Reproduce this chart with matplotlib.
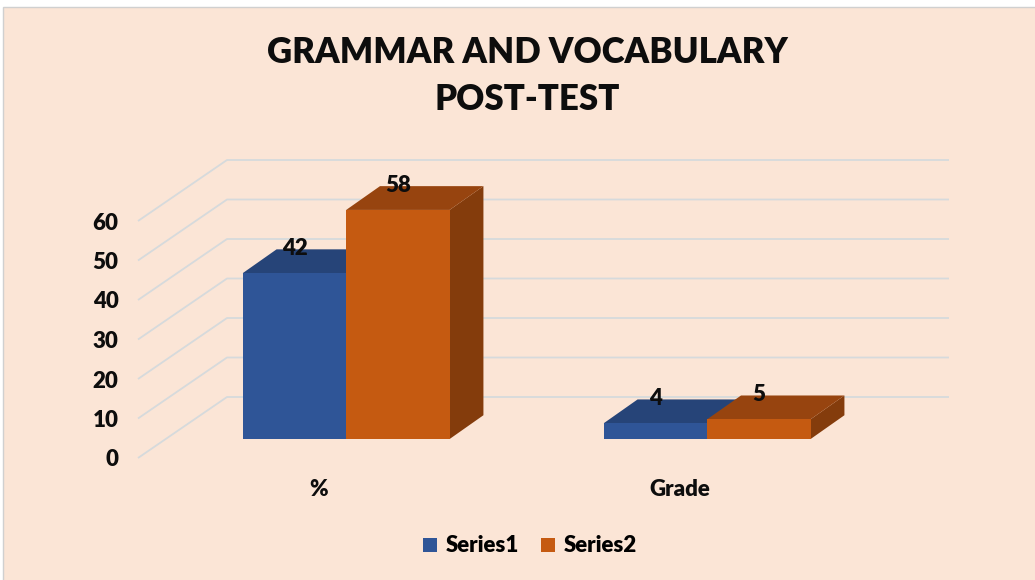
import matplotlib
matplotlib.use('Agg')
import matplotlib.pyplot as plt
from matplotlib.patches import Polygon, Rectangle, Patch

# ---- data ----
categories = ['%', 'Grade']
series1 = [42, 4]
series2 = [58, 5]
series_names = ['Series1', 'Series2']
y_ticks = [0, 10, 20, 30, 40, 50, 60]
title = 'GRAMMAR AND VOCABULARY\nPOST-TEST'

# ---- style ----
plt.rcParams['font.family'] = ['Lato', 'DejaVu Sans']
bg = '#FBE5D6'
grid_c = '#D6DADC'
front_c = ['#2F5597', '#C55A11']
top_c = ['#264478', '#97440F']
side_c = ['#1F3864', '#843C0C']
txt_c = '#0D0D0D'
fw = 'heavy'

W, H = 1035, 580
fig = plt.figure(figsize=(W / 100, H / 100), dpi=100)
fig.patch.set_facecolor('white')
fig.patches.append(Rectangle((3 / W, -0.01), 1.0, (H - 7) / H + 0.01,
                             transform=fig.transFigure, facecolor=bg,
                             edgecolor='#D0D0D0', lw=1.0, zorder=-10))

# front plane axes
px_cat = 361.0
px_val = 3.95
left_px, right_px, zero_px, top_px = 138, 949, 458, 120
ax = fig.add_axes([left_px / W, (H - zero_px) / H,
                   (right_px - left_px) / W, (zero_px - top_px) / H])
ax.set_facecolor('none')
ax.set_xlim(0, (right_px - left_px) / px_cat)
ax.set_ylim(0, (zero_px - top_px) / px_val)
for s in ax.spines.values():
    s.set_visible(False)

depth_x = 89 / px_cat
depth_y = 61 / px_val
n_cat = len(categories)

# gridlines (side wall + back wall)
for v in y_ticks:
    ax.plot([0, depth_x, n_cat + depth_x], [v, v + depth_y, v + depth_y],
            color=grid_c, lw=1.3, zorder=1, solid_capstyle='butt',
            clip_on=False)

# bars
d0 = 0.311
bdx = 0.38 * depth_x
bdy = 0.39 * depth_y
bw = 0.2865
gap = (1 - 2 * bw) / 2
for i in range(n_cat):
    for j, vals in enumerate([series1, series2]):
        v = vals[i]
        x0 = i + gap + j * bw + d0 * depth_x
        y0 = d0 * depth_y
        front = [(x0, y0), (x0 + bw, y0), (x0 + bw, y0 + v), (x0, y0 + v)]
        top = [(x0, y0 + v), (x0 + bw, y0 + v),
               (x0 + bw + bdx, y0 + v + bdy), (x0 + bdx, y0 + v + bdy)]
        side = [(x0 + bw, y0), (x0 + bw + bdx, y0 + bdy),
                (x0 + bw + bdx, y0 + v + bdy), (x0 + bw, y0 + v)]
        z = 2 + i * 3 + j
        ax.add_patch(Polygon(side, closed=True, facecolor=side_c[j],
                             edgecolor='none', zorder=z, clip_on=False))
        ax.add_patch(Polygon(top, closed=True, facecolor=top_c[j],
                             edgecolor='none', zorder=z, clip_on=False))
        ax.add_patch(Polygon(front, closed=True, facecolor=front_c[j],
                             edgecolor='none', zorder=z, clip_on=False))
        ax.text(x0 + bw / 2, y0 + v + 6.3, str(v), ha='center', va='center',
                fontsize=16, fontweight=fw, color=txt_c, zorder=20)

# axis labels
ax.set_yticks(y_ticks)
ax.set_yticklabels([str(t) for t in y_ticks], fontsize=16, fontweight=fw,
                   color=txt_c)
ax.tick_params(axis='y', length=0, pad=14)
ax.set_xticks([i + 0.5 for i in range(n_cat)])
ax.set_xticklabels(categories, fontsize=16, fontweight=fw, color=txt_c)
ax.tick_params(axis='x', length=0, pad=15)

# title
fig.text(527 / W, 1 - 76 / H, title, ha='center', va='center', fontsize=25,
         fontweight=fw, color=txt_c, linespacing=1.5)

# legend
handles = [Patch(facecolor=front_c[k], edgecolor='none', label=series_names[k])
           for k in range(2)]
fig.legend(handles=handles, loc='center', bbox_to_anchor=(530 / W, 1 - 546 / H),
           ncol=2, frameon=False, handlelength=0.6, handleheight=0.6,
           handletextpad=0.4, columnspacing=1.0,
           prop={'size': 16, 'weight': fw})

fig.savefig('out.png', dpi=100, facecolor=fig.get_facecolor())
